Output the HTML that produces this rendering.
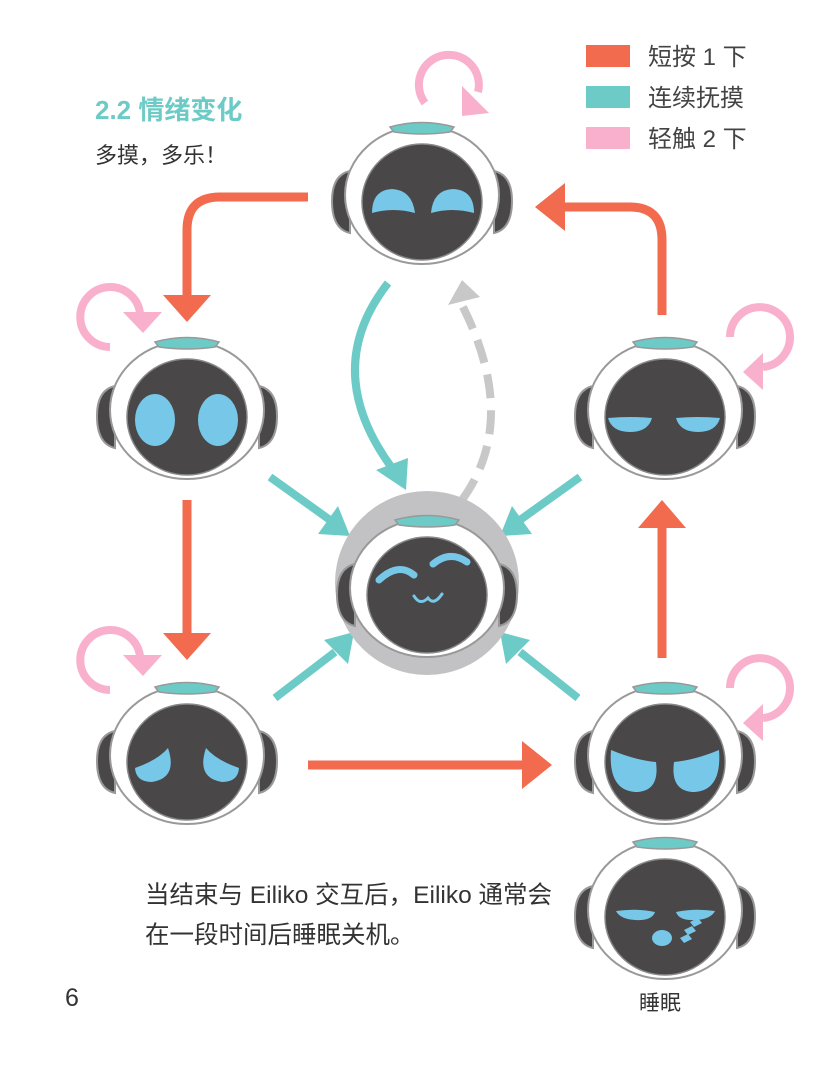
<!DOCTYPE html>
<html><head><meta charset="utf-8"><style>
html,body{margin:0;padding:0;background:#fff}
body{width:827px;height:1063px;overflow:hidden}
text{font-family:"Liberation Sans","Noto Sans CJK SC",sans-serif}
</style></head><body>
<svg width="827" height="1063" viewBox="0 0 827 1063" xmlns="http://www.w3.org/2000/svg">
<defs>
<g id="robot">
  <path d="M-72,-24 q-18,4 -18,30 q0,28 18,32 z" fill="#4a4748" stroke="#999" stroke-width="2"/>
  <path d="M72,-24 q18,4 18,30 q0,28 -18,32 z" fill="#4a4748" stroke="#999" stroke-width="2"/>
  <ellipse cx="0" cy="0" rx="77" ry="69" fill="#fff" stroke="#999" stroke-width="2"/>
  <ellipse cx="0" cy="7" rx="60" ry="58" fill="#4a4748" stroke="#888" stroke-width="1.5"/>
  <path d="M-32,-68 q32,-9 64,0 l-4,5 q-28,4 -56,0 z" fill="#6ccbc6" stroke="#999" stroke-width="1.5"/>
</g>
<g id="pinkL">
  <path d="M110,347 A30,30 0 1 1 140,313" fill="none" stroke="#f9b0cc" stroke-width="8"/>
  <polygon points="123,312 162,312 143,333" fill="#f9b0cc"/>
</g>
<g id="pinkR">
  <path d="M730,337 A30,30 0 1 1 763,367" fill="none" stroke="#f9b0cc" stroke-width="8"/>
  <polygon points="743,372 763,353 763,390" fill="#f9b0cc"/>
</g>
</defs>

<rect x="586" y="45" width="44" height="22" fill="#f26b4f"/>
<text x="648" y="65" font-size="24" fill="#444">短按 1 下</text>
<rect x="586" y="86" width="44" height="22" fill="#6ccbc6"/>
<text x="648" y="106" font-size="24" fill="#444">连续抚摸</text>
<rect x="586" y="127" width="44" height="22" fill="#f9b0cc"/>
<text x="648" y="147" font-size="24" fill="#444">轻触 2 下</text>

<text x="95" y="119" font-size="26" font-weight="bold" fill="#6ccbc6">2.2 情绪变化</text>
<text x="95" y="163" font-size="22" fill="#333">多摸，多乐！</text>

<g fill="none" stroke="#f26b4f" stroke-width="9">
  <path d="M308,197 H220 Q187,197 187,230 V295"/>
  <path d="M662,315 V240 Q662,207 630,207 H565"/>
  <path d="M187,500 V640"/>
  <path d="M662,658 V525"/>
  <path d="M308,765 H525"/>
</g>
<g fill="#f26b4f">
  <polygon points="163,295 211,295 187,322"/>
  <polygon points="565,183 565,231 535,207"/>
  <polygon points="163,633 211,633 187,660"/>
  <polygon points="638,528 686,528 662,500"/>
  <polygon points="522,741 522,789 552,765"/>
</g>

<g fill="none" stroke="#6ccbc6" stroke-width="8">
  <path d="M388,283 Q320,370 392,468"/>
  <path d="M270,477 L330,520"/>
  <path d="M580,477 L520,520"/>
  <path d="M275,698 L335,652"/>
  <path d="M578,698 L520,652"/>
</g>
<g fill="#6ccbc6">
  <polygon points="376,470 408,458 406,490"/>
  <polygon points="318,534 350,536 338,506"/>
  <polygon points="532,534 500,536 512,506"/>
  <polygon points="324,640 354,632 348,664"/>
  <polygon points="530,640 500,632 506,664"/>
</g>

<path d="M462,500 Q520,420 462,305" fill="none" stroke="#c8c8c8" stroke-width="8" stroke-dasharray="24,12"/>
<polygon points="448,305 480,297 462,280" fill="#c8c8c8"/>

<use href="#pinkL"/>
<use href="#pinkL" transform="translate(0,343)"/>
<use href="#pinkR"/>
<use href="#pinkR" transform="translate(0,351)"/>
<path d="M425,103 A30,30 0 1 1 478,92" fill="none" stroke="#f9b0cc" stroke-width="8"/>
<polygon points="462,86 462,116 489,113" fill="#f9b0cc"/>

<circle cx="427" cy="583" r="92" fill="#c2c2c4"/>

<use href="#robot" transform="translate(422,195)"/>
<use href="#robot" transform="translate(187,410)"/>
<use href="#robot" transform="translate(665,410)"/>
<use href="#robot" transform="translate(427,588)"/>
<use href="#robot" transform="translate(187,755)"/>
<use href="#robot" transform="translate(665,755)"/>
<use href="#robot" transform="translate(665,910)"/>

<g fill="#76c7e8">
  <path d="M372,213 Q372,190 392,189 Q412,190 415,213 Q394,207 372,213z"/>
  <path d="M431,213 Q433,190 453,189 Q474,190 474,213 Q452,207 431,213z"/>
  <ellipse cx="155" cy="420" rx="20" ry="26"/>
  <ellipse cx="218" cy="420" rx="20" ry="26"/>
  <path d="M608,418 Q630,416 652,418 Q648,432 630,432 Q612,432 608,418z"/>
  <path d="M676,418 Q698,416 720,418 Q716,432 698,432 Q680,432 676,418z"/>
  <path d="M135,768 Q158,760 168,748 Q178,778 152,782 Q136,782 135,768z"/>
  <path d="M239,768 Q216,760 206,748 Q196,778 222,782 Q238,782 239,768z"/>
  <path d="M611,750 Q635,760 656,762 Q660,792 635,792 Q608,790 611,750z"/>
  <path d="M719,750 Q695,760 674,762 Q670,792 695,792 Q722,790 719,750z"/>
  <path d="M616,911 Q637,908 655,912 Q652,921 635,920 Q620,919 616,911z"/>
  <path d="M676,912 Q694,908 715,911 Q711,919 696,920 Q679,921 676,912z"/>
  <ellipse cx="662" cy="938" rx="10" ry="8"/>
  <path d="M684,930 l8,-4 l4,5 l-8,4z M690,922 l8,-4 l4,5 l-8,4z M680,938 l8,-4 l4,5 l-8,4z"/>
</g>
<g fill="none" stroke="#76c7e8" stroke-width="7" stroke-linecap="round">
  <path d="M379,580 Q398,562 414,575"/>
  <path d="M433,564 Q450,550 467,562"/>
</g>
<path d="M414,596 Q420,606 428,598 Q434,606 442,594" fill="none" stroke="#76c7e8" stroke-width="3" stroke-linecap="round"/>

<text x="145" y="903" font-size="24.5" fill="#333">当结束与 Eiliko 交互后，Eiliko 通常会</text>
<text x="145" y="943" font-size="24.5" fill="#333">在一段时间后睡眠关机。</text>
<text x="65" y="1006" font-size="25" fill="#333">6</text>
<text x="639" y="1010" font-size="21" fill="#333">睡眠</text>
</svg>
</body></html>
